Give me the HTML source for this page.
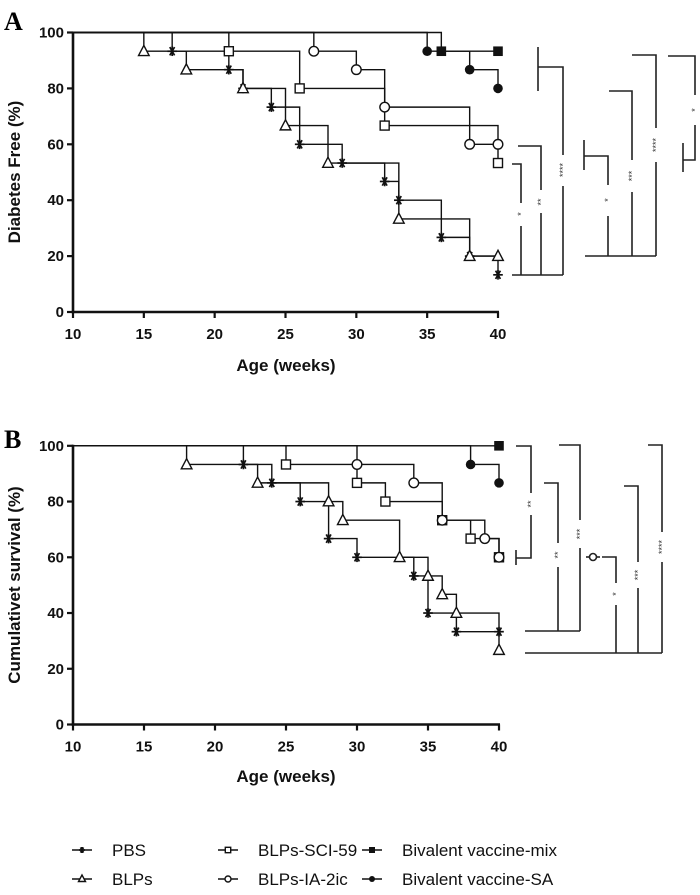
<!DOCTYPE html>
<html><head><meta charset="utf-8">
<style>
html,body{margin:0;padding:0;background:#fff;}
svg{display:block;}
.tk{font-family:"Liberation Sans",Arial,sans-serif;font-weight:bold;font-size:15px;fill:#111;}
.ttl{font-family:"Liberation Sans",Arial,sans-serif;font-weight:bold;font-size:17px;fill:#111;}
.leg{font-family:"Liberation Sans",Arial,sans-serif;font-size:17px;fill:#111;}
.sig{font-family:"Liberation Sans",Arial,sans-serif;font-size:9px;fill:#333;}
</style></head>
<body>
<svg id="chart" width="700" height="895" viewBox="0 0 700 895" xmlns="http://www.w3.org/2000/svg">
<text x="4" y="30" font-family="Liberation Serif,serif" font-weight="bold" font-size="26">A</text>
<text x="4" y="448" font-family="Liberation Serif,serif" font-weight="bold" font-size="26">B</text>
<text class="ttl" transform="translate(20,172) rotate(-90)" text-anchor="middle">Diabetes Free (%)</text>
<text class="ttl" x="286" y="371" text-anchor="middle">Age (weeks)</text>
<text class="ttl" transform="translate(20,585) rotate(-90)" text-anchor="middle">Cumulativet survival (%)</text>
<text class="ttl" x="286" y="782" text-anchor="middle">Age (weeks)</text>
<g id="brackets" stroke="#222" stroke-width="1.6" fill="none">
<polyline points="512,164 521,164 521,203"/><line x1="521" y1="226" x2="521" y2="275"/>
<polyline points="518,146 541,146 541,190"/><line x1="541" y1="213" x2="541" y2="275"/>
<line x1="512" y1="275" x2="563" y2="275"/>
<polyline points="538,67 563,67 563,155"/><line x1="563" y1="186" x2="563" y2="275"/>
<line x1="538" y1="47" x2="538" y2="91"/>
<line x1="585" y1="256" x2="656" y2="256"/>
<polyline points="584,156 608,156 608,185"/><line x1="608" y1="216" x2="608" y2="256"/>
<line x1="584" y1="140" x2="584" y2="170"/>
<polyline points="609,91 632,91 632,160"/><line x1="632" y1="192" x2="632" y2="256"/>
<polyline points="632,55 656,55 656,128"/><line x1="656" y1="162" x2="656" y2="256"/>
<polyline points="668,56 695,56 695,95"/><polyline points="695,125 695,160 683,160"/>
<line x1="683" y1="143" x2="683" y2="172"/>
<polyline points="516,446 531,446 531,493"/><polyline points="531,515 531,558 516,558"/>
<line x1="516" y1="550" x2="516" y2="565"/>
<polyline points="559,445 580,445 580,520"/><line x1="580" y1="548" x2="580" y2="631"/>
<polyline points="544,483 558,483 558,543"/><line x1="558" y1="567" x2="558" y2="631"/>
<line x1="525" y1="631" x2="580" y2="631"/>
<line x1="586" y1="557" x2="600" y2="557"/><circle cx="593" cy="557" r="3.5" fill="#fff"/>
<polyline points="602,557 616,557 616,583"/><line x1="616" y1="605" x2="616" y2="653"/>
<polyline points="624,486 638,486 638,562"/><line x1="638" y1="588" x2="638" y2="653"/>
<polyline points="648,445 662,445 662,532"/><line x1="662" y1="562" x2="662" y2="653"/>
<line x1="525" y1="653" x2="662" y2="653"/>
</g>
<g>
<text class="sig" transform="translate(524,214) rotate(-90)" text-anchor="middle">*</text>
<text class="sig" transform="translate(544,202) rotate(-90)" text-anchor="middle">**</text>
<text class="sig" transform="translate(566,170) rotate(-90)" text-anchor="middle">****</text>
<text class="sig" transform="translate(611,200) rotate(-90)" text-anchor="middle">*</text>
<text class="sig" transform="translate(635,176) rotate(-90)" text-anchor="middle">***</text>
<text class="sig" transform="translate(659,145) rotate(-90)" text-anchor="middle">****</text>
<text class="sig" transform="translate(698,110) rotate(-90)" text-anchor="middle">*</text>
<text class="sig" transform="translate(534,504) rotate(-90)" text-anchor="middle">**</text>
<text class="sig" transform="translate(583,534) rotate(-90)" text-anchor="middle">***</text>
<text class="sig" transform="translate(561,555) rotate(-90)" text-anchor="middle">**</text>
<text class="sig" transform="translate(619,594) rotate(-90)" text-anchor="middle">*</text>
<text class="sig" transform="translate(641,575) rotate(-90)" text-anchor="middle">***</text>
<text class="sig" transform="translate(665,547) rotate(-90)" text-anchor="middle">****</text>
</g>
</svg>
<script>
const groupNames = ["PBS","BLPs","BLPs-SCI-59","BLPs-IA-2ic","Bivalent vaccine-mix","Bivalent vaccine-SA"];
const groupMarkers = ["star","tri","sq","circ","fsq","fcirc"];
const xTicks = [10,15,20,25,30,35,40];
const yTicks = [0,20,40,60,80,100];
const aPbsT = [17,21,22,24,26,29,32,33,36,38,40];
const aPbsV = [93.3,86.7,80,73.3,60,53.3,46.7,40,26.7,20,13.3];
const aBlpT = [15,18,22,25,28,33,38,40];
const aBlpV = [93.3,86.7,80,66.7,53.3,33.3,20,20];
const aSciT = [21,26,32,40];
const aSciV = [93.3,80,66.7,53.3];
const aIaT = [27,30,32,38,40];
const aIaV = [93.3,86.7,73.3,60,60];
const aMixT = [36,40];
const aMixV = [93.3,93.3];
const aSaT = [35,38,40];
const aSaV = [93.3,86.7,80];
const bPbsT = [22,24,26,28,30,34,35,37,40];
const bPbsV = [93.3,86.7,80,66.7,60,53.3,40,33.3,33.3];
const bBlpT = [18,23,28,29,33,35,36,37,40];
const bBlpV = [93.3,86.7,80,73.3,60,53.3,46.7,40,26.7];
const bSciT = [25,30,32,36,38,40];
const bSciV = [93.3,86.7,80,73.3,66.7,60];
const bIaT = [30,34,36,39,40];
const bIaV = [93.3,86.7,73.3,66.7,60];
const bMixT = [40];
const bMixV = [100];
const bSaT = [38,40];
const bSaV = [93.3,86.7];

const NS="http://www.w3.org/2000/svg";
const svg=document.getElementById('chart');
function mk(tag,attrs,parent){const e=document.createElementNS(NS,tag);for(const k in attrs)e.setAttribute(k,attrs[k]);(parent||svg).appendChild(e);return e;}

function marker(g,type,x,y,s){
  s=s||4.8;
  if(type==="star"){
    for(const a of [0,60,120]){const r=a*Math.PI/180;mk('line',{x1:x-s*Math.cos(r),y1:y-s*Math.sin(r),x2:x+s*Math.cos(r),y2:y+s*Math.sin(r),stroke:'#111','stroke-width':1.7},g);}
    mk('line',{x1:x,y1:y-s,x2:x,y2:y+s,stroke:'#111','stroke-width':1.7},g);
  }else if(type==="tri"){mk('polygon',{points:`${x},${y-s-1} ${x-s-0.5},${y+s-0.5} ${x+s+0.5},${y+s-0.5}`,fill:'#fff',stroke:'#111','stroke-width':1.4},g);}
  else if(type==="sq"){mk('rect',{x:x-s+0.3,y:y-s+0.3,width:2*s-0.6,height:2*s-0.6,fill:'#fff',stroke:'#111','stroke-width':1.4},g);}
  else if(type==="circ"){mk('circle',{cx:x,cy:y,r:s,fill:'#fff',stroke:'#111','stroke-width':1.4},g);}
  else if(type==="fsq"){mk('rect',{x:x-s,y:y-s,width:2*s,height:2*s,fill:'#111'},g);}
  else if(type==="fcirc"){mk('circle',{cx:x,cy:y,r:s,fill:'#111'},g);}
}

function panel(name,x0,x1,y0,y100,series){
  const sx=v=>x0+(v-10)/30*(x1-x0);
  const sy=v=>y0+(v/100)*(y100-y0);
  const g=mk('g',{});
  
  
  const ax=mk('g',{},g);
  
  
  mk('line',{x1:x0,y1:y100-1,x2:x0,y2:y0+1.3,stroke:'#111','stroke-width':2.6},ax);
  mk('line',{x1:x0-1.3,y1:y0,x2:x1+1,y2:y0,stroke:'#111','stroke-width':2.6},ax);
  xTicks.forEach(t=>{
    mk('line',{x1:sx(t),y1:y0,x2:sx(t),y2:y0+6,stroke:'#111','stroke-width':2.2},ax);
    const tx=mk('text',{x:sx(t),y:y0+27,'text-anchor':'middle',class:'tk'},ax);tx.textContent=t;
    
    
  });
  yTicks.forEach(t=>{
    mk('line',{x1:x0-6,y1:sy(t),x2:x0,y2:sy(t),stroke:'#111','stroke-width':2.2},ax);
    const tx=mk('text',{x:x0-9,y:sy(t)+5,'text-anchor':'end',class:'tk'},ax);tx.textContent=t;
    
    
  });
  series.forEach((s,i)=>{
    const sg=mk('g',{},g);
    
    
    let pv=100;let pts=`${sx(10)},${sy(pv)}`;
    s.t.forEach((t,j)=>{pts+=` ${sx(t)},${sy(pv)} ${sx(t)},${sy(s.v[j])}`;pv=s.v[j];});
    mk('polyline',{points:pts,fill:'none',stroke:'#111','stroke-width':1.4},sg);
    s.t.forEach((t,j)=>marker(sg,groupMarkers[i],sx(t),sy(s.v[j])));
  });
}
panel('panel-a',73,498,312,32.5,[
  {t:aPbsT,v:aPbsV},{t:aBlpT,v:aBlpV},{t:aSciT,v:aSciV},{t:aIaT,v:aIaV},{t:aMixT,v:aMixV},{t:aSaT,v:aSaV}]);
panel('panel-b',73,499,724.5,445.8,[
  {t:bPbsT,v:bPbsV},{t:bBlpT,v:bBlpV},{t:bSciT,v:bSciV},{t:bIaT,v:bIaV},{t:bMixT,v:bMixV},{t:bSaT,v:bSaV}]);

const legX=[72,218,362],legY=[850,879];
groupNames.forEach((n,i)=>{
  const col=Math.floor(i/2),row=i%2;
  const lg=mk('g',{});
  
  
  const x=legX[col],y=legY[row];
  mk('line',{x1:x,y1:y,x2:x+20,y2:y,stroke:'#111','stroke-width':1.4},lg);
  marker(lg,groupMarkers[i],x+10,y,3);
  const t=mk('text',{x:x+40,y:y+6,class:'leg'},lg);t.textContent=n;
});
</script>
</body></html>
